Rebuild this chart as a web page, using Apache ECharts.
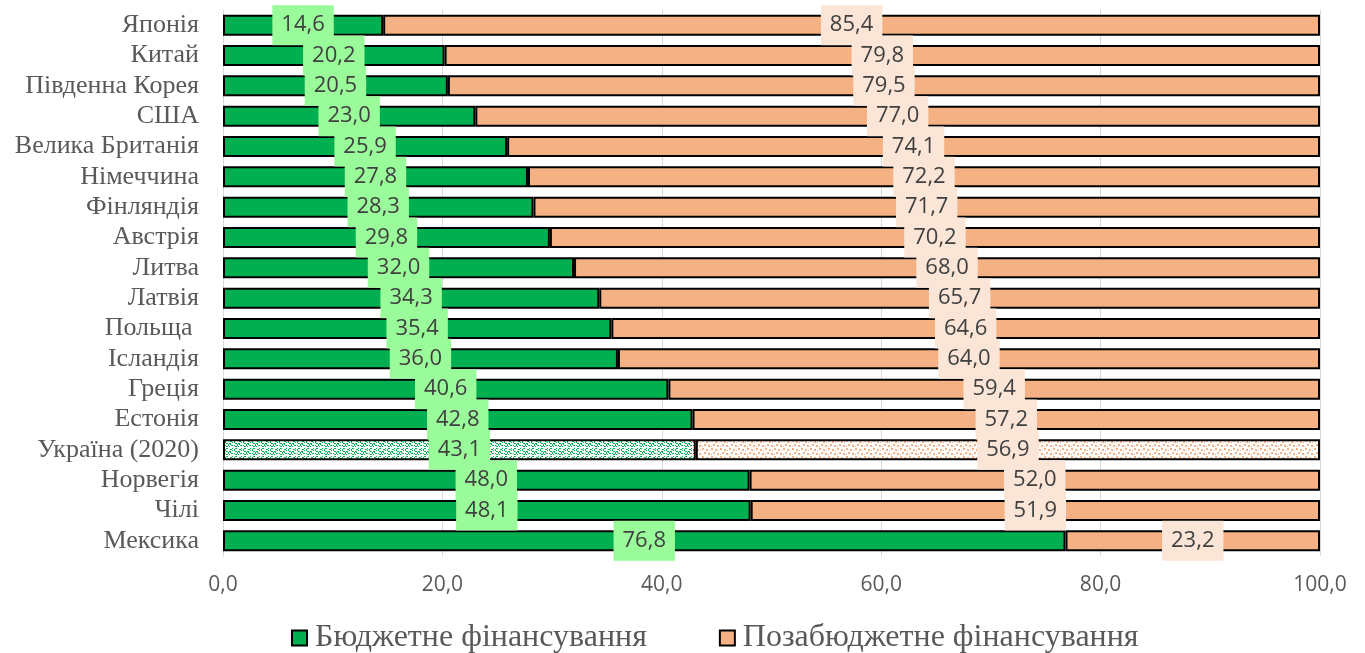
<!DOCTYPE html>
<html>
<head>
<meta charset="utf-8">
<script src="https://cdn.jsdelivr.net/npm/echarts@6/dist/echarts.min.js"></script>
<style>
  html, body { margin: 0; padding: 0; background: #fff; }
  #chart { width: 1365px; height: 653px; }
</style>
</head>
<body>
<div id="chart"></div>
<script>
// Countries, top to bottom
const countries = ['Японія', 'Китай', 'Південна Корея', 'США', 'Велика Британія', 'Німеччина',
  'Фінляндія', 'Австрія', 'Литва', 'Латвія', 'Польща ', 'Ісландія', 'Греція', 'Естонія',
  'Україна (2020)', 'Норвегія', 'Чілі', 'Мексика'];
// Share of budget funding, %
const budgetShare = [14.6, 20.2, 20.5, 23.0, 25.9, 27.8, 28.3, 29.8, 32.0, 34.3, 35.4, 36.0, 40.6, 42.8, 43.1, 48.0, 48.1, 76.8];
// Share of extra-budgetary funding, %
const extraShare = [85.4, 79.8, 79.5, 77.0, 74.1, 72.2, 71.7, 70.2, 68.0, 65.7, 64.6, 64.0, 59.4, 57.2, 56.9, 52.0, 51.9, 23.2];
const seriesNames = ['Бюджетне фінансування', 'Позабюджетне фінансування'];
const highlighted = 'Україна (2020)';

const GREEN = '#00B050';
const ORANGE = '#F4B183';

// Small tiled patterns for the highlighted bar
function makePattern(color, cells, w, h) {
  const c = document.createElement('canvas');
  c.width = w; c.height = h;
  const ctx = c.getContext('2d');
  ctx.fillStyle = '#fff';
  ctx.fillRect(0, 0, w, h);
  ctx.fillStyle = color;
  cells.forEach(([x, y, cw, ch]) => ctx.fillRect(x, y, cw || 1, ch || 1));
  return c;
}
// wavy "S" motif for the budget part
const greenTile = makePattern(GREEN, [
  [1,0,2,1],[0,1,1,2],[1,3,2,1],[3,4,1,2],[1,6,2,1],[0,5,1,1],
  [5,1,2,1],[7,2,1,1],[5,3,1,2],[6,5,2,1],[4,6,1,1],[7,0,1,1],
  [4,3,1,1]
], 9, 8);
// scattered squares for the extra-budgetary part
const orangeTile = makePattern(ORANGE, [
  [0,0,2,2],[4,1,2,2],[2,4,2,2],[6,5,2,2],[7,2,1,1],[0,6,1,1]
], 9, 8);

function fmt(v) { return v.toFixed(1).replace('.', ','); }

function buildData(values, tile) {
  return values.map((v, i) => {
    if (countries[i] === highlighted) {
      return { value: v, itemStyle: { color: { image: tile, repeat: 'repeat' } } };
    }
    return v;
  });
}

const labelBase = {
  show: true,
  position: 'inside',
  formatter: p => fmt(p.value),
  fontFamily: 'Open Sans',
  fontSize: 22,
  color: '#404040',
  lineHeight: 24,
  padding: [8, 9, 8, 9]
};

const chart = echarts.init(document.getElementById('chart'));
chart.setOption({
  animation: false,
  grid: { left: 223, right: 45, top: 10, bottom: 97, containLabel: false },
  legend: {
    top: 617,
    left: 286,
    itemWidth: 15,
    itemHeight: 15,
    itemGap: 72,
    icon: 'rect',
    textStyle: { fontFamily: 'Liberation Serif', fontSize: 32, color: '#595959', padding: [0, 0, 0, 3] },
    data: seriesNames
  },
  xAxis: {
    type: 'value',
    min: 0,
    max: 100,
    interval: 20,
    axisLine: { show: false },
    axisTick: { show: false },
    splitLine: { show: true, lineStyle: { color: '#d9d9d9', width: 1 } },
    axisLabel: {
      formatter: v => fmt(v),
      fontFamily: 'Open Sans',
      fontSize: 21,
      color: '#595959',
      margin: 19
    }
  },
  yAxis: {
    type: 'category',
    inverse: true,
    data: countries,
    axisLine: { show: true, lineStyle: { color: '#d9d9d9', width: 1 } },
    axisTick: { show: false },
    axisLabel: {
      interval: 0,
      fontFamily: 'Liberation Serif',
      fontSize: 26,
      color: '#595959',
      margin: 24
    }
  },
  series: [
    {
      name: seriesNames[0],
      type: 'bar',
      stack: 'total',
      barWidth: 21,
      data: buildData(budgetShare, greenTile),
      itemStyle: { color: GREEN, borderColor: '#000', borderWidth: 2 },
      label: Object.assign({}, labelBase, { backgroundColor: '#99FB99' })
    },
    {
      name: seriesNames[1],
      type: 'bar',
      stack: 'total',
      barWidth: 21,
      data: buildData(extraShare, orangeTile),
      itemStyle: { color: ORANGE, borderColor: '#000', borderWidth: 2 },
      label: Object.assign({}, labelBase, { backgroundColor: '#FBE5D6' })
    }
  ]
});
</script>
</body>
</html>
